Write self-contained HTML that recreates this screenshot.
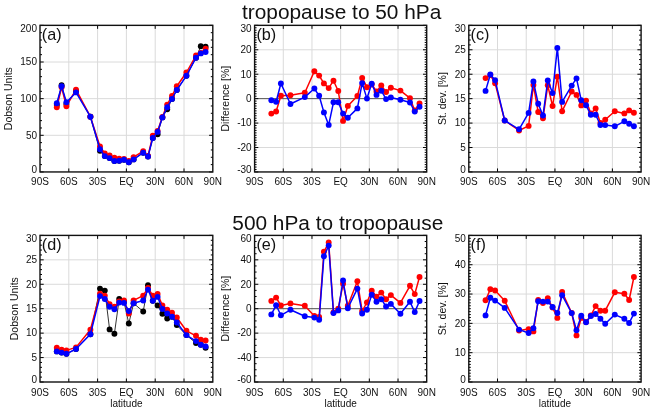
<!DOCTYPE html>
<html><head><meta charset="utf-8"><title>figure</title>
<style>
html,body{margin:0;padding:0;background:#fff;}
body{width:654px;height:411px;overflow:hidden;font-family:"Liberation Sans",sans-serif;}
svg{display:block;will-change:transform;}
</style></head><body>
<svg width="654" height="411" viewBox="0 0 654 411">
<rect x="0" y="0" width="654" height="411" fill="#fff"/>
<g stroke="#dadada" stroke-width="1" fill="none"><line x1="68.8" y1="25.35" x2="68.8" y2="171.95"/><line x1="97.6" y1="25.35" x2="97.6" y2="171.95"/><line x1="126.4" y1="25.35" x2="126.4" y2="171.95"/><line x1="155.2" y1="25.35" x2="155.2" y2="171.95"/><line x1="184" y1="25.35" x2="184" y2="171.95"/><line x1="40" y1="135.3" x2="212.8" y2="135.3"/><line x1="40" y1="98.65" x2="212.8" y2="98.65"/><line x1="40" y1="62" x2="212.8" y2="62"/></g>
<polyline points="56.8,105 61.6,85.3 66.4,104 76,91 90.4,116.7 100,150.8 104.8,156.1 109.6,158.1 114.4,161 119.2,160.7 124,159.7 128.8,162.2 133.6,159.4 143.2,152.7 148,156.5 152.8,138 157.6,134.2 162.4,117.4 167.2,109.3 172,98.9 176.8,90 186.4,75.8 196,57.7 200.8,46.2 205.6,46.8" fill="none" stroke="#000" stroke-width="0.8" stroke-linejoin="round"/>
<g fill="#000"><circle cx="56.8" cy="105" r="2.95"/><circle cx="61.6" cy="85.3" r="2.95"/><circle cx="66.4" cy="104" r="2.95"/><circle cx="76" cy="91" r="2.95"/><circle cx="90.4" cy="116.7" r="2.95"/><circle cx="100" cy="150.8" r="2.95"/><circle cx="104.8" cy="156.1" r="2.95"/><circle cx="109.6" cy="158.1" r="2.95"/><circle cx="114.4" cy="161" r="2.95"/><circle cx="119.2" cy="160.7" r="2.95"/><circle cx="124" cy="159.7" r="2.95"/><circle cx="128.8" cy="162.2" r="2.95"/><circle cx="133.6" cy="159.4" r="2.95"/><circle cx="143.2" cy="152.7" r="2.95"/><circle cx="148" cy="156.5" r="2.95"/><circle cx="152.8" cy="138" r="2.95"/><circle cx="157.6" cy="134.2" r="2.95"/><circle cx="162.4" cy="117.4" r="2.95"/><circle cx="167.2" cy="109.3" r="2.95"/><circle cx="172" cy="98.9" r="2.95"/><circle cx="176.8" cy="90" r="2.95"/><circle cx="186.4" cy="75.8" r="2.95"/><circle cx="196" cy="57.7" r="2.95"/><circle cx="200.8" cy="46.2" r="2.95"/><circle cx="205.6" cy="46.8" r="2.95"/></g>
<polyline points="56.8,107.2 61.6,87.3 66.4,106.2 76,89.6 90.4,116.7 100,146.5 104.8,153.5 109.6,155.4 114.4,157.6 119.2,158.6 124,159 128.8,161 133.6,157.1 143.2,151.1 148,156 152.8,135.7 157.6,131 162.4,117 167.2,104.6 172,95.9 176.8,86.3 186.4,72.5 196,55.5 200.8,53 205.6,48.6" fill="none" stroke="#f00" stroke-width="1.5" stroke-linejoin="round"/>
<g fill="#f00"><circle cx="56.8" cy="107.2" r="2.95"/><circle cx="61.6" cy="87.3" r="2.95"/><circle cx="66.4" cy="106.2" r="2.95"/><circle cx="76" cy="89.6" r="2.95"/><circle cx="90.4" cy="116.7" r="2.95"/><circle cx="100" cy="146.5" r="2.95"/><circle cx="104.8" cy="153.5" r="2.95"/><circle cx="109.6" cy="155.4" r="2.95"/><circle cx="114.4" cy="157.6" r="2.95"/><circle cx="119.2" cy="158.6" r="2.95"/><circle cx="124" cy="159" r="2.95"/><circle cx="128.8" cy="161" r="2.95"/><circle cx="133.6" cy="157.1" r="2.95"/><circle cx="143.2" cy="151.1" r="2.95"/><circle cx="148" cy="156" r="2.95"/><circle cx="152.8" cy="135.7" r="2.95"/><circle cx="157.6" cy="131" r="2.95"/><circle cx="162.4" cy="117" r="2.95"/><circle cx="167.2" cy="104.6" r="2.95"/><circle cx="172" cy="95.9" r="2.95"/><circle cx="176.8" cy="86.3" r="2.95"/><circle cx="186.4" cy="72.5" r="2.95"/><circle cx="196" cy="55.5" r="2.95"/><circle cx="200.8" cy="53" r="2.95"/><circle cx="205.6" cy="48.6" r="2.95"/></g>
<polyline points="56.8,103.2 61.6,86.3 66.4,102.3 76,92.4 90.4,116.7 100,149.3 104.8,156.1 109.6,158.1 114.4,161 119.2,160.7 124,159.7 128.8,162.2 133.6,159.4 143.2,152.7 148,156.5 152.8,138 157.6,131.9 162.4,117.4 167.2,107.2 172,98.9 176.8,90 186.4,75.8 196,57.7 200.8,53.4 205.6,52" fill="none" stroke="#00f" stroke-width="1.5" stroke-linejoin="round"/>
<g fill="#00f"><circle cx="56.8" cy="103.2" r="2.95"/><circle cx="61.6" cy="86.3" r="2.95"/><circle cx="66.4" cy="102.3" r="2.95"/><circle cx="76" cy="92.4" r="2.95"/><circle cx="90.4" cy="116.7" r="2.95"/><circle cx="100" cy="149.3" r="2.95"/><circle cx="104.8" cy="156.1" r="2.95"/><circle cx="109.6" cy="158.1" r="2.95"/><circle cx="114.4" cy="161" r="2.95"/><circle cx="119.2" cy="160.7" r="2.95"/><circle cx="124" cy="159.7" r="2.95"/><circle cx="128.8" cy="162.2" r="2.95"/><circle cx="133.6" cy="159.4" r="2.95"/><circle cx="143.2" cy="152.7" r="2.95"/><circle cx="148" cy="156.5" r="2.95"/><circle cx="152.8" cy="138" r="2.95"/><circle cx="157.6" cy="131.9" r="2.95"/><circle cx="162.4" cy="117.4" r="2.95"/><circle cx="167.2" cy="107.2" r="2.95"/><circle cx="172" cy="98.9" r="2.95"/><circle cx="176.8" cy="90" r="2.95"/><circle cx="186.4" cy="75.8" r="2.95"/><circle cx="196" cy="57.7" r="2.95"/><circle cx="200.8" cy="53.4" r="2.95"/><circle cx="205.6" cy="52" r="2.95"/></g>
<path d="M40 171.95h3.7M212.8 171.95h-3.7M40 164.62h2M212.8 164.62h-2M40 157.29h2M212.8 157.29h-2M40 149.96h2M212.8 149.96h-2M40 142.63h2M212.8 142.63h-2M40 135.3h3.7M212.8 135.3h-3.7M40 127.97h2M212.8 127.97h-2M40 120.64h2M212.8 120.64h-2M40 113.31h2M212.8 113.31h-2M40 105.98h2M212.8 105.98h-2M40 98.65h3.7M212.8 98.65h-3.7M40 91.32h2M212.8 91.32h-2M40 83.99h2M212.8 83.99h-2M40 76.66h2M212.8 76.66h-2M40 69.33h2M212.8 69.33h-2M40 62h3.7M212.8 62h-3.7M40 54.67h2M212.8 54.67h-2M40 47.34h2M212.8 47.34h-2M40 40.01h2M212.8 40.01h-2M40 32.68h2M212.8 32.68h-2M40 25.35h3.7M212.8 25.35h-3.7M68.8 171.95v-3.5M68.8 25.35v3.5M97.6 171.95v-3.5M97.6 25.35v3.5M126.4 171.95v-3.5M126.4 25.35v3.5M155.2 171.95v-3.5M155.2 25.35v3.5M184 171.95v-3.5M184 25.35v3.5" stroke="#000" stroke-width="1" fill="none"/>
<rect x="40" y="25.35" width="172.8" height="146.6" fill="none" stroke="#111" stroke-width="1.4"/>
<g font-family='"Liberation Sans", sans-serif' font-size="10" fill="#111"><text x="37" y="172.65" text-anchor="end">0</text><text x="37" y="138.6" text-anchor="end">50</text><text x="37" y="101.95" text-anchor="end">100</text><text x="37" y="65.3" text-anchor="end">150</text><text x="37" y="32.15" text-anchor="end">200</text><text x="40" y="185.45" text-anchor="middle">90S</text><text x="68.8" y="185.45" text-anchor="middle">60S</text><text x="97.6" y="185.45" text-anchor="middle">30S</text><text x="126.4" y="185.45" text-anchor="middle">EQ</text><text x="155.2" y="185.45" text-anchor="middle">30N</text><text x="184" y="185.45" text-anchor="middle">60N</text><text x="212.8" y="185.45" text-anchor="middle">90N</text></g>
<text x="12.12" y="98.65" font-family='"Liberation Sans", sans-serif' font-size="10.5" fill="#111" text-anchor="middle" transform="rotate(-90 12.12 98.65)">Dobson Units</text>
<text x="41.8" y="39.95" font-family='"Liberation Sans", sans-serif' font-size="16.2" fill="#111">(a)</text>
<g stroke="#dadada" stroke-width="1" fill="none"><line x1="283.28" y1="25.35" x2="283.28" y2="171.95"/><line x1="311.97" y1="25.35" x2="311.97" y2="171.95"/><line x1="340.65" y1="25.35" x2="340.65" y2="171.95"/><line x1="369.33" y1="25.35" x2="369.33" y2="171.95"/><line x1="398.02" y1="25.35" x2="398.02" y2="171.95"/><line x1="254.6" y1="147.52" x2="426.7" y2="147.52"/><line x1="254.6" y1="123.08" x2="426.7" y2="123.08"/><line x1="254.6" y1="74.22" x2="426.7" y2="74.22"/><line x1="254.6" y1="49.78" x2="426.7" y2="49.78"/></g>
<line x1="254.6" y1="98.65" x2="426.7" y2="98.65" stroke="#3a3a3a" stroke-width="0.9"/>
<polyline points="271.33,113.6 276.11,111.5 280.89,95.8 290.45,95.3 304.8,92.8 314.36,71.2 319.14,75.6 323.92,83.4 328.7,88.1 333.48,80.7 338.26,91 343.04,120.9 347.82,105.9 357.38,95.9 362.16,77.9 366.94,87.2 371.72,84.5 376.5,91.5 381.28,85.4 386.07,92 390.85,87.7 400.41,90.6 409.97,98.2 414.75,110.5 419.53,103.4" fill="none" stroke="#f00" stroke-width="1.5" stroke-linejoin="round"/>
<g fill="#f00"><circle cx="271.33" cy="113.6" r="2.95"/><circle cx="276.11" cy="111.5" r="2.95"/><circle cx="280.89" cy="95.8" r="2.95"/><circle cx="290.45" cy="95.3" r="2.95"/><circle cx="304.8" cy="92.8" r="2.95"/><circle cx="314.36" cy="71.2" r="2.95"/><circle cx="319.14" cy="75.6" r="2.95"/><circle cx="323.92" cy="83.4" r="2.95"/><circle cx="328.7" cy="88.1" r="2.95"/><circle cx="333.48" cy="80.7" r="2.95"/><circle cx="338.26" cy="91" r="2.95"/><circle cx="343.04" cy="120.9" r="2.95"/><circle cx="347.82" cy="105.9" r="2.95"/><circle cx="357.38" cy="95.9" r="2.95"/><circle cx="362.16" cy="77.9" r="2.95"/><circle cx="366.94" cy="87.2" r="2.95"/><circle cx="371.72" cy="84.5" r="2.95"/><circle cx="376.5" cy="91.5" r="2.95"/><circle cx="381.28" cy="85.4" r="2.95"/><circle cx="386.07" cy="92" r="2.95"/><circle cx="390.85" cy="87.7" r="2.95"/><circle cx="400.41" cy="90.6" r="2.95"/><circle cx="409.97" cy="98.2" r="2.95"/><circle cx="414.75" cy="110.5" r="2.95"/><circle cx="419.53" cy="103.4" r="2.95"/></g>
<polyline points="271.33,100.2 276.11,101.8 280.89,83.5 290.45,104 304.8,97.1 314.36,88.5 319.14,95.8 323.92,112.4 328.7,124.9 333.48,102.3 338.26,102.3 343.04,113.6 347.82,117.8 357.38,108.4 362.16,83.1 366.94,98.6 371.72,83.6 376.5,94.9 381.28,90.7 386.07,99.1 390.85,97.4 400.41,99.7 409.97,102.5 414.75,111.6 419.53,106.8" fill="none" stroke="#00f" stroke-width="1.5" stroke-linejoin="round"/>
<g fill="#00f"><circle cx="271.33" cy="100.2" r="2.95"/><circle cx="276.11" cy="101.8" r="2.95"/><circle cx="280.89" cy="83.5" r="2.95"/><circle cx="290.45" cy="104" r="2.95"/><circle cx="304.8" cy="97.1" r="2.95"/><circle cx="314.36" cy="88.5" r="2.95"/><circle cx="319.14" cy="95.8" r="2.95"/><circle cx="323.92" cy="112.4" r="2.95"/><circle cx="328.7" cy="124.9" r="2.95"/><circle cx="333.48" cy="102.3" r="2.95"/><circle cx="338.26" cy="102.3" r="2.95"/><circle cx="343.04" cy="113.6" r="2.95"/><circle cx="347.82" cy="117.8" r="2.95"/><circle cx="357.38" cy="108.4" r="2.95"/><circle cx="362.16" cy="83.1" r="2.95"/><circle cx="366.94" cy="98.6" r="2.95"/><circle cx="371.72" cy="83.6" r="2.95"/><circle cx="376.5" cy="94.9" r="2.95"/><circle cx="381.28" cy="90.7" r="2.95"/><circle cx="386.07" cy="99.1" r="2.95"/><circle cx="390.85" cy="97.4" r="2.95"/><circle cx="400.41" cy="99.7" r="2.95"/><circle cx="409.97" cy="102.5" r="2.95"/><circle cx="414.75" cy="111.6" r="2.95"/><circle cx="419.53" cy="106.8" r="2.95"/></g>
<path d="M254.6 171.95h3.7M426.7 171.95h-3.7M254.6 169.51h2M426.7 169.51h-2M254.6 167.06h2M426.7 167.06h-2M254.6 164.62h2M426.7 164.62h-2M254.6 162.18h2M426.7 162.18h-2M254.6 159.73h2M426.7 159.73h-2M254.6 157.29h2M426.7 157.29h-2M254.6 154.85h2M426.7 154.85h-2M254.6 152.4h2M426.7 152.4h-2M254.6 149.96h2M426.7 149.96h-2M254.6 147.52h3.7M426.7 147.52h-3.7M254.6 145.07h2M426.7 145.07h-2M254.6 142.63h2M426.7 142.63h-2M254.6 140.19h2M426.7 140.19h-2M254.6 137.74h2M426.7 137.74h-2M254.6 135.3h2M426.7 135.3h-2M254.6 132.86h2M426.7 132.86h-2M254.6 130.41h2M426.7 130.41h-2M254.6 127.97h2M426.7 127.97h-2M254.6 125.53h2M426.7 125.53h-2M254.6 123.08h3.7M426.7 123.08h-3.7M254.6 120.64h2M426.7 120.64h-2M254.6 118.2h2M426.7 118.2h-2M254.6 115.75h2M426.7 115.75h-2M254.6 113.31h2M426.7 113.31h-2M254.6 110.87h2M426.7 110.87h-2M254.6 108.42h2M426.7 108.42h-2M254.6 105.98h2M426.7 105.98h-2M254.6 103.54h2M426.7 103.54h-2M254.6 101.09h2M426.7 101.09h-2M254.6 98.65h3.7M426.7 98.65h-3.7M254.6 96.21h2M426.7 96.21h-2M254.6 93.76h2M426.7 93.76h-2M254.6 91.32h2M426.7 91.32h-2M254.6 88.88h2M426.7 88.88h-2M254.6 86.43h2M426.7 86.43h-2M254.6 83.99h2M426.7 83.99h-2M254.6 81.55h2M426.7 81.55h-2M254.6 79.1h2M426.7 79.1h-2M254.6 76.66h2M426.7 76.66h-2M254.6 74.22h3.7M426.7 74.22h-3.7M254.6 71.77h2M426.7 71.77h-2M254.6 69.33h2M426.7 69.33h-2M254.6 66.89h2M426.7 66.89h-2M254.6 64.44h2M426.7 64.44h-2M254.6 62h2M426.7 62h-2M254.6 59.56h2M426.7 59.56h-2M254.6 57.11h2M426.7 57.11h-2M254.6 54.67h2M426.7 54.67h-2M254.6 52.23h2M426.7 52.23h-2M254.6 49.78h3.7M426.7 49.78h-3.7M254.6 47.34h2M426.7 47.34h-2M254.6 44.9h2M426.7 44.9h-2M254.6 42.45h2M426.7 42.45h-2M254.6 40.01h2M426.7 40.01h-2M254.6 37.57h2M426.7 37.57h-2M254.6 35.12h2M426.7 35.12h-2M254.6 32.68h2M426.7 32.68h-2M254.6 30.24h2M426.7 30.24h-2M254.6 27.79h2M426.7 27.79h-2M254.6 25.35h3.7M426.7 25.35h-3.7M283.28 171.95v-3.5M283.28 25.35v3.5M311.97 171.95v-3.5M311.97 25.35v3.5M340.65 171.95v-3.5M340.65 25.35v3.5M369.33 171.95v-3.5M369.33 25.35v3.5M398.02 171.95v-3.5M398.02 25.35v3.5" stroke="#000" stroke-width="1" fill="none"/>
<rect x="254.6" y="25.35" width="172.1" height="146.6" fill="none" stroke="#111" stroke-width="1.4"/>
<g font-family='"Liberation Sans", sans-serif' font-size="10" fill="#111"><text x="251.6" y="172.65" text-anchor="end">-30</text><text x="251.6" y="150.82" text-anchor="end">-20</text><text x="251.6" y="126.38" text-anchor="end">-10</text><text x="251.6" y="101.95" text-anchor="end">0</text><text x="251.6" y="77.52" text-anchor="end">10</text><text x="251.6" y="53.08" text-anchor="end">20</text><text x="251.6" y="32.15" text-anchor="end">30</text><text x="254.6" y="185.45" text-anchor="middle">90S</text><text x="283.28" y="185.45" text-anchor="middle">60S</text><text x="311.97" y="185.45" text-anchor="middle">30S</text><text x="340.65" y="185.45" text-anchor="middle">EQ</text><text x="369.33" y="185.45" text-anchor="middle">30N</text><text x="398.02" y="185.45" text-anchor="middle">60N</text><text x="426.7" y="185.45" text-anchor="middle">90N</text></g>
<text x="228.95" y="98.65" font-family='"Liberation Sans", sans-serif' font-size="10.5" fill="#111" text-anchor="middle" transform="rotate(-90 228.95 98.65)">Difference [%]</text>
<text x="256.4" y="39.95" font-family='"Liberation Sans", sans-serif' font-size="16.2" fill="#111">(b)</text>
<g stroke="#dadada" stroke-width="1" fill="none"><line x1="497.52" y1="25.35" x2="497.52" y2="171.95"/><line x1="526.23" y1="25.35" x2="526.23" y2="171.95"/><line x1="554.95" y1="25.35" x2="554.95" y2="171.95"/><line x1="583.67" y1="25.35" x2="583.67" y2="171.95"/><line x1="612.38" y1="25.35" x2="612.38" y2="171.95"/><line x1="468.8" y1="147.52" x2="641.1" y2="147.52"/><line x1="468.8" y1="123.08" x2="641.1" y2="123.08"/><line x1="468.8" y1="98.65" x2="641.1" y2="98.65"/><line x1="468.8" y1="74.22" x2="641.1" y2="74.22"/><line x1="468.8" y1="49.78" x2="641.1" y2="49.78"/></g>
<polyline points="485.55,78.1 490.34,75 495.12,83.2 504.7,120.5 519.05,130.5 528.63,125.9 533.41,85 538.2,112 542.98,118.2 547.77,85.3 552.56,106 557.34,76.7 562.13,111.2 571.7,91.5 576.49,94.9 581.27,105.4 586.06,100.6 590.85,113.5 595.63,108.4 600.42,123 605.2,119.7 614.78,111.2 624.35,113.4 629.13,110.4 633.92,112.8" fill="none" stroke="#f00" stroke-width="1.5" stroke-linejoin="round"/>
<g fill="#f00"><circle cx="485.55" cy="78.1" r="2.95"/><circle cx="490.34" cy="75" r="2.95"/><circle cx="495.12" cy="83.2" r="2.95"/><circle cx="504.7" cy="120.5" r="2.95"/><circle cx="519.05" cy="130.5" r="2.95"/><circle cx="528.63" cy="125.9" r="2.95"/><circle cx="533.41" cy="85" r="2.95"/><circle cx="538.2" cy="112" r="2.95"/><circle cx="542.98" cy="118.2" r="2.95"/><circle cx="547.77" cy="85.3" r="2.95"/><circle cx="552.56" cy="106" r="2.95"/><circle cx="557.34" cy="76.7" r="2.95"/><circle cx="562.13" cy="111.2" r="2.95"/><circle cx="571.7" cy="91.5" r="2.95"/><circle cx="576.49" cy="94.9" r="2.95"/><circle cx="581.27" cy="105.4" r="2.95"/><circle cx="586.06" cy="100.6" r="2.95"/><circle cx="590.85" cy="113.5" r="2.95"/><circle cx="595.63" cy="108.4" r="2.95"/><circle cx="600.42" cy="123" r="2.95"/><circle cx="605.2" cy="119.7" r="2.95"/><circle cx="614.78" cy="111.2" r="2.95"/><circle cx="624.35" cy="113.4" r="2.95"/><circle cx="629.13" cy="110.4" r="2.95"/><circle cx="633.92" cy="112.8" r="2.95"/></g>
<polyline points="485.55,90.9 490.34,74.5 495.12,80.3 504.7,120.5 519.05,129.3 528.63,112.9 533.41,81.4 538.2,103.7 542.98,115.5 547.77,80.5 552.56,93.1 557.34,47.9 562.13,101.9 571.7,85.6 576.49,78.4 581.27,100.3 586.06,105.3 590.85,114.8 595.63,114.8 600.42,125 605.2,125.1 614.78,126.3 624.35,121.3 629.13,123.7 633.92,126.3" fill="none" stroke="#00f" stroke-width="1.5" stroke-linejoin="round"/>
<g fill="#00f"><circle cx="485.55" cy="90.9" r="2.95"/><circle cx="490.34" cy="74.5" r="2.95"/><circle cx="495.12" cy="80.3" r="2.95"/><circle cx="504.7" cy="120.5" r="2.95"/><circle cx="519.05" cy="129.3" r="2.95"/><circle cx="528.63" cy="112.9" r="2.95"/><circle cx="533.41" cy="81.4" r="2.95"/><circle cx="538.2" cy="103.7" r="2.95"/><circle cx="542.98" cy="115.5" r="2.95"/><circle cx="547.77" cy="80.5" r="2.95"/><circle cx="552.56" cy="93.1" r="2.95"/><circle cx="557.34" cy="47.9" r="2.95"/><circle cx="562.13" cy="101.9" r="2.95"/><circle cx="571.7" cy="85.6" r="2.95"/><circle cx="576.49" cy="78.4" r="2.95"/><circle cx="581.27" cy="100.3" r="2.95"/><circle cx="586.06" cy="105.3" r="2.95"/><circle cx="590.85" cy="114.8" r="2.95"/><circle cx="595.63" cy="114.8" r="2.95"/><circle cx="600.42" cy="125" r="2.95"/><circle cx="605.2" cy="125.1" r="2.95"/><circle cx="614.78" cy="126.3" r="2.95"/><circle cx="624.35" cy="121.3" r="2.95"/><circle cx="629.13" cy="123.7" r="2.95"/><circle cx="633.92" cy="126.3" r="2.95"/></g>
<path d="M468.8 171.95h3.7M641.1 171.95h-3.7M468.8 167.06h2M641.1 167.06h-2M468.8 162.18h2M641.1 162.18h-2M468.8 157.29h2M641.1 157.29h-2M468.8 152.4h2M641.1 152.4h-2M468.8 147.52h3.7M641.1 147.52h-3.7M468.8 142.63h2M641.1 142.63h-2M468.8 137.74h2M641.1 137.74h-2M468.8 132.86h2M641.1 132.86h-2M468.8 127.97h2M641.1 127.97h-2M468.8 123.08h3.7M641.1 123.08h-3.7M468.8 118.2h2M641.1 118.2h-2M468.8 113.31h2M641.1 113.31h-2M468.8 108.42h2M641.1 108.42h-2M468.8 103.54h2M641.1 103.54h-2M468.8 98.65h3.7M641.1 98.65h-3.7M468.8 93.76h2M641.1 93.76h-2M468.8 88.88h2M641.1 88.88h-2M468.8 83.99h2M641.1 83.99h-2M468.8 79.1h2M641.1 79.1h-2M468.8 74.22h3.7M641.1 74.22h-3.7M468.8 69.33h2M641.1 69.33h-2M468.8 64.44h2M641.1 64.44h-2M468.8 59.56h2M641.1 59.56h-2M468.8 54.67h2M641.1 54.67h-2M468.8 49.78h3.7M641.1 49.78h-3.7M468.8 44.9h2M641.1 44.9h-2M468.8 40.01h2M641.1 40.01h-2M468.8 35.12h2M641.1 35.12h-2M468.8 30.24h2M641.1 30.24h-2M468.8 25.35h3.7M641.1 25.35h-3.7M497.52 171.95v-3.5M497.52 25.35v3.5M526.23 171.95v-3.5M526.23 25.35v3.5M554.95 171.95v-3.5M554.95 25.35v3.5M583.67 171.95v-3.5M583.67 25.35v3.5M612.38 171.95v-3.5M612.38 25.35v3.5" stroke="#000" stroke-width="1" fill="none"/>
<rect x="468.8" y="25.35" width="172.3" height="146.6" fill="none" stroke="#111" stroke-width="1.4"/>
<g font-family='"Liberation Sans", sans-serif' font-size="10" fill="#111"><text x="465.8" y="172.65" text-anchor="end">0</text><text x="465.8" y="150.82" text-anchor="end">5</text><text x="465.8" y="126.38" text-anchor="end">10</text><text x="465.8" y="101.95" text-anchor="end">15</text><text x="465.8" y="77.52" text-anchor="end">20</text><text x="465.8" y="53.08" text-anchor="end">25</text><text x="465.8" y="32.15" text-anchor="end">30</text><text x="468.8" y="185.45" text-anchor="middle">90S</text><text x="497.52" y="185.45" text-anchor="middle">60S</text><text x="526.23" y="185.45" text-anchor="middle">30S</text><text x="554.95" y="185.45" text-anchor="middle">EQ</text><text x="583.67" y="185.45" text-anchor="middle">30N</text><text x="612.38" y="185.45" text-anchor="middle">60N</text><text x="641.1" y="185.45" text-anchor="middle">90N</text></g>
<text x="446.48" y="98.65" font-family='"Liberation Sans", sans-serif' font-size="10.5" fill="#111" text-anchor="middle" transform="rotate(-90 446.48 98.65)">St. dev. [%]</text>
<text x="470.6" y="39.95" font-family='"Liberation Sans", sans-serif' font-size="16.2" fill="#111">(c)</text>
<g stroke="#dadada" stroke-width="1" fill="none"><line x1="68.8" y1="235.4" x2="68.8" y2="382"/><line x1="97.6" y1="235.4" x2="97.6" y2="382"/><line x1="126.4" y1="235.4" x2="126.4" y2="382"/><line x1="155.2" y1="235.4" x2="155.2" y2="382"/><line x1="184" y1="235.4" x2="184" y2="382"/><line x1="40" y1="357.57" x2="212.8" y2="357.57"/><line x1="40" y1="333.13" x2="212.8" y2="333.13"/><line x1="40" y1="308.7" x2="212.8" y2="308.7"/><line x1="40" y1="284.27" x2="212.8" y2="284.27"/><line x1="40" y1="259.83" x2="212.8" y2="259.83"/></g>
<polyline points="56.8,351.4 61.6,352.6 66.4,353.8 76,349 90.4,334.2 100,288.6 104.8,290.6 109.6,329.4 114.4,333.8 119.2,299 124,302 128.8,323.5 133.6,303.3 143.2,311.5 148,285.3 152.8,300.8 157.6,305.4 162.4,313.7 167.2,318.5 172,316.8 176.8,325.1 186.4,335.1 196,343.1 200.8,344.7 205.6,347.8" fill="none" stroke="#000" stroke-width="0.8" stroke-linejoin="round"/>
<g fill="#000"><circle cx="56.8" cy="351.4" r="2.95"/><circle cx="61.6" cy="352.6" r="2.95"/><circle cx="66.4" cy="353.8" r="2.95"/><circle cx="76" cy="349" r="2.95"/><circle cx="90.4" cy="334.2" r="2.95"/><circle cx="100" cy="288.6" r="2.95"/><circle cx="104.8" cy="290.6" r="2.95"/><circle cx="109.6" cy="329.4" r="2.95"/><circle cx="114.4" cy="333.8" r="2.95"/><circle cx="119.2" cy="299" r="2.95"/><circle cx="124" cy="302" r="2.95"/><circle cx="128.8" cy="323.5" r="2.95"/><circle cx="133.6" cy="303.3" r="2.95"/><circle cx="143.2" cy="311.5" r="2.95"/><circle cx="148" cy="285.3" r="2.95"/><circle cx="152.8" cy="300.8" r="2.95"/><circle cx="157.6" cy="305.4" r="2.95"/><circle cx="162.4" cy="313.7" r="2.95"/><circle cx="167.2" cy="318.5" r="2.95"/><circle cx="172" cy="316.8" r="2.95"/><circle cx="176.8" cy="325.1" r="2.95"/><circle cx="186.4" cy="335.1" r="2.95"/><circle cx="196" cy="343.1" r="2.95"/><circle cx="200.8" cy="344.7" r="2.95"/><circle cx="205.6" cy="347.8" r="2.95"/></g>
<polyline points="56.8,347.7 61.6,349.6 66.4,350.4 76,347.4 90.4,329.7 100,293.6 104.8,295.6 109.6,304.1 114.4,306.8 119.2,301.5 124,300.4 128.8,313.6 133.6,300.4 143.2,295.7 148,288 152.8,295.7 157.6,293.9 162.4,305.5 167.2,309.6 172,312.8 176.8,317.5 186.4,330.8 196,335.8 200.8,339.8 205.6,340.5" fill="none" stroke="#f00" stroke-width="1.5" stroke-linejoin="round"/>
<g fill="#f00"><circle cx="56.8" cy="347.7" r="2.95"/><circle cx="61.6" cy="349.6" r="2.95"/><circle cx="66.4" cy="350.4" r="2.95"/><circle cx="76" cy="347.4" r="2.95"/><circle cx="90.4" cy="329.7" r="2.95"/><circle cx="100" cy="293.6" r="2.95"/><circle cx="104.8" cy="295.6" r="2.95"/><circle cx="109.6" cy="304.1" r="2.95"/><circle cx="114.4" cy="306.8" r="2.95"/><circle cx="119.2" cy="301.5" r="2.95"/><circle cx="124" cy="300.4" r="2.95"/><circle cx="128.8" cy="313.6" r="2.95"/><circle cx="133.6" cy="300.4" r="2.95"/><circle cx="143.2" cy="295.7" r="2.95"/><circle cx="148" cy="288" r="2.95"/><circle cx="152.8" cy="295.7" r="2.95"/><circle cx="157.6" cy="293.9" r="2.95"/><circle cx="162.4" cy="305.5" r="2.95"/><circle cx="167.2" cy="309.6" r="2.95"/><circle cx="172" cy="312.8" r="2.95"/><circle cx="176.8" cy="317.5" r="2.95"/><circle cx="186.4" cy="330.8" r="2.95"/><circle cx="196" cy="335.8" r="2.95"/><circle cx="200.8" cy="339.8" r="2.95"/><circle cx="205.6" cy="340.5" r="2.95"/></g>
<polyline points="56.8,351.4 61.6,352.6 66.4,353.8 76,349 90.4,334.2 100,296.1 104.8,299 109.6,306.8 114.4,309.2 119.2,302.6 124,302.9 128.8,311 133.6,303.3 143.2,300.5 148,289.6 152.8,300.8 157.6,296.9 162.4,309 167.2,313.5 172,316.8 176.8,322.5 186.4,335.1 196,341.1 200.8,344.7 205.6,346.5" fill="none" stroke="#00f" stroke-width="1.5" stroke-linejoin="round"/>
<g fill="#00f"><circle cx="56.8" cy="351.4" r="2.95"/><circle cx="61.6" cy="352.6" r="2.95"/><circle cx="66.4" cy="353.8" r="2.95"/><circle cx="76" cy="349" r="2.95"/><circle cx="90.4" cy="334.2" r="2.95"/><circle cx="100" cy="296.1" r="2.95"/><circle cx="104.8" cy="299" r="2.95"/><circle cx="109.6" cy="306.8" r="2.95"/><circle cx="114.4" cy="309.2" r="2.95"/><circle cx="119.2" cy="302.6" r="2.95"/><circle cx="124" cy="302.9" r="2.95"/><circle cx="128.8" cy="311" r="2.95"/><circle cx="133.6" cy="303.3" r="2.95"/><circle cx="143.2" cy="300.5" r="2.95"/><circle cx="148" cy="289.6" r="2.95"/><circle cx="152.8" cy="300.8" r="2.95"/><circle cx="157.6" cy="296.9" r="2.95"/><circle cx="162.4" cy="309" r="2.95"/><circle cx="167.2" cy="313.5" r="2.95"/><circle cx="172" cy="316.8" r="2.95"/><circle cx="176.8" cy="322.5" r="2.95"/><circle cx="186.4" cy="335.1" r="2.95"/><circle cx="196" cy="341.1" r="2.95"/><circle cx="200.8" cy="344.7" r="2.95"/><circle cx="205.6" cy="346.5" r="2.95"/></g>
<path d="M40 382h3.7M212.8 382h-3.7M40 377.11h2M212.8 377.11h-2M40 372.23h2M212.8 372.23h-2M40 367.34h2M212.8 367.34h-2M40 362.45h2M212.8 362.45h-2M40 357.57h3.7M212.8 357.57h-3.7M40 352.68h2M212.8 352.68h-2M40 347.79h2M212.8 347.79h-2M40 342.91h2M212.8 342.91h-2M40 338.02h2M212.8 338.02h-2M40 333.13h3.7M212.8 333.13h-3.7M40 328.25h2M212.8 328.25h-2M40 323.36h2M212.8 323.36h-2M40 318.47h2M212.8 318.47h-2M40 313.59h2M212.8 313.59h-2M40 308.7h3.7M212.8 308.7h-3.7M40 303.81h2M212.8 303.81h-2M40 298.93h2M212.8 298.93h-2M40 294.04h2M212.8 294.04h-2M40 289.15h2M212.8 289.15h-2M40 284.27h3.7M212.8 284.27h-3.7M40 279.38h2M212.8 279.38h-2M40 274.49h2M212.8 274.49h-2M40 269.61h2M212.8 269.61h-2M40 264.72h2M212.8 264.72h-2M40 259.83h3.7M212.8 259.83h-3.7M40 254.95h2M212.8 254.95h-2M40 250.06h2M212.8 250.06h-2M40 245.17h2M212.8 245.17h-2M40 240.29h2M212.8 240.29h-2M40 235.4h3.7M212.8 235.4h-3.7M68.8 382v-3.5M68.8 235.4v3.5M97.6 382v-3.5M97.6 235.4v3.5M126.4 382v-3.5M126.4 235.4v3.5M155.2 382v-3.5M155.2 235.4v3.5M184 382v-3.5M184 235.4v3.5" stroke="#000" stroke-width="1" fill="none"/>
<rect x="40" y="235.4" width="172.8" height="146.6" fill="none" stroke="#111" stroke-width="1.4"/>
<g font-family='"Liberation Sans", sans-serif' font-size="10" fill="#111"><text x="37" y="382.7" text-anchor="end">0</text><text x="37" y="360.87" text-anchor="end">5</text><text x="37" y="336.43" text-anchor="end">10</text><text x="37" y="312" text-anchor="end">15</text><text x="37" y="287.57" text-anchor="end">20</text><text x="37" y="263.13" text-anchor="end">25</text><text x="37" y="242.2" text-anchor="end">30</text><text x="40" y="395.5" text-anchor="middle">90S</text><text x="68.8" y="395.5" text-anchor="middle">60S</text><text x="97.6" y="395.5" text-anchor="middle">30S</text><text x="126.4" y="395.5" text-anchor="middle">EQ</text><text x="155.2" y="395.5" text-anchor="middle">30N</text><text x="184" y="395.5" text-anchor="middle">60N</text><text x="212.8" y="395.5" text-anchor="middle">90N</text></g>
<text x="17.68" y="308.7" font-family='"Liberation Sans", sans-serif' font-size="10.5" fill="#111" text-anchor="middle" transform="rotate(-90 17.68 308.7)">Dobson Units</text>
<text x="41.8" y="250" font-family='"Liberation Sans", sans-serif' font-size="16.2" fill="#111">(d)</text>
<text x="126.4" y="406.8" font-family='"Liberation Sans", sans-serif' font-size="10" fill="#111" text-anchor="middle">latitude</text>
<g stroke="#dadada" stroke-width="1" fill="none"><line x1="283.28" y1="235.4" x2="283.28" y2="382"/><line x1="311.97" y1="235.4" x2="311.97" y2="382"/><line x1="340.65" y1="235.4" x2="340.65" y2="382"/><line x1="369.33" y1="235.4" x2="369.33" y2="382"/><line x1="398.02" y1="235.4" x2="398.02" y2="382"/><line x1="254.6" y1="357.57" x2="426.7" y2="357.57"/><line x1="254.6" y1="333.13" x2="426.7" y2="333.13"/><line x1="254.6" y1="284.27" x2="426.7" y2="284.27"/><line x1="254.6" y1="259.83" x2="426.7" y2="259.83"/></g>
<line x1="254.6" y1="308.7" x2="426.7" y2="308.7" stroke="#3a3a3a" stroke-width="0.9"/>
<polyline points="271.33,300.9 276.11,297.6 280.89,305.5 290.45,303.4 304.8,305.7 314.36,316 319.14,317 323.92,251.8 328.7,242.5 333.48,312.5 338.26,308.6 343.04,283.8 347.82,305.8 357.38,281.2 362.16,311 366.94,302.5 371.72,290.8 376.5,296.6 381.28,292.6 386.07,299.2 390.85,295.1 400.41,302.9 409.97,285.8 414.75,294.1 419.53,277" fill="none" stroke="#f00" stroke-width="1.5" stroke-linejoin="round"/>
<g fill="#f00"><circle cx="271.33" cy="300.9" r="2.95"/><circle cx="276.11" cy="297.6" r="2.95"/><circle cx="280.89" cy="305.5" r="2.95"/><circle cx="290.45" cy="303.4" r="2.95"/><circle cx="304.8" cy="305.7" r="2.95"/><circle cx="314.36" cy="316" r="2.95"/><circle cx="319.14" cy="317" r="2.95"/><circle cx="323.92" cy="251.8" r="2.95"/><circle cx="328.7" cy="242.5" r="2.95"/><circle cx="333.48" cy="312.5" r="2.95"/><circle cx="338.26" cy="308.6" r="2.95"/><circle cx="343.04" cy="283.8" r="2.95"/><circle cx="347.82" cy="305.8" r="2.95"/><circle cx="357.38" cy="281.2" r="2.95"/><circle cx="362.16" cy="311" r="2.95"/><circle cx="366.94" cy="302.5" r="2.95"/><circle cx="371.72" cy="290.8" r="2.95"/><circle cx="376.5" cy="296.6" r="2.95"/><circle cx="381.28" cy="292.6" r="2.95"/><circle cx="386.07" cy="299.2" r="2.95"/><circle cx="390.85" cy="295.1" r="2.95"/><circle cx="400.41" cy="302.9" r="2.95"/><circle cx="409.97" cy="285.8" r="2.95"/><circle cx="414.75" cy="294.1" r="2.95"/><circle cx="419.53" cy="277" r="2.95"/></g>
<polyline points="271.33,314.4 276.11,305.3 280.89,315.3 290.45,309.8 304.8,316.2 314.36,317.6 319.14,319.8 323.92,256.2 328.7,245.6 333.48,313.1 338.26,310.4 343.04,280.5 347.82,308.2 357.38,288.6 362.16,313.5 366.94,309.8 371.72,294.8 376.5,301.8 381.28,299.2 386.07,306.5 390.85,303.9 400.41,313.8 409.97,301.8 414.75,312.1 419.53,301" fill="none" stroke="#00f" stroke-width="1.5" stroke-linejoin="round"/>
<g fill="#00f"><circle cx="271.33" cy="314.4" r="2.95"/><circle cx="276.11" cy="305.3" r="2.95"/><circle cx="280.89" cy="315.3" r="2.95"/><circle cx="290.45" cy="309.8" r="2.95"/><circle cx="304.8" cy="316.2" r="2.95"/><circle cx="314.36" cy="317.6" r="2.95"/><circle cx="319.14" cy="319.8" r="2.95"/><circle cx="323.92" cy="256.2" r="2.95"/><circle cx="328.7" cy="245.6" r="2.95"/><circle cx="333.48" cy="313.1" r="2.95"/><circle cx="338.26" cy="310.4" r="2.95"/><circle cx="343.04" cy="280.5" r="2.95"/><circle cx="347.82" cy="308.2" r="2.95"/><circle cx="357.38" cy="288.6" r="2.95"/><circle cx="362.16" cy="313.5" r="2.95"/><circle cx="366.94" cy="309.8" r="2.95"/><circle cx="371.72" cy="294.8" r="2.95"/><circle cx="376.5" cy="301.8" r="2.95"/><circle cx="381.28" cy="299.2" r="2.95"/><circle cx="386.07" cy="306.5" r="2.95"/><circle cx="390.85" cy="303.9" r="2.95"/><circle cx="400.41" cy="313.8" r="2.95"/><circle cx="409.97" cy="301.8" r="2.95"/><circle cx="414.75" cy="312.1" r="2.95"/><circle cx="419.53" cy="301" r="2.95"/></g>
<path d="M254.6 382h3.7M426.7 382h-3.7M254.6 375.89h2M426.7 375.89h-2M254.6 369.78h2M426.7 369.78h-2M254.6 363.68h2M426.7 363.68h-2M254.6 357.57h3.7M426.7 357.57h-3.7M254.6 351.46h2M426.7 351.46h-2M254.6 345.35h2M426.7 345.35h-2M254.6 339.24h2M426.7 339.24h-2M254.6 333.13h3.7M426.7 333.13h-3.7M254.6 327.02h2M426.7 327.02h-2M254.6 320.92h2M426.7 320.92h-2M254.6 314.81h2M426.7 314.81h-2M254.6 308.7h3.7M426.7 308.7h-3.7M254.6 302.59h2M426.7 302.59h-2M254.6 296.48h2M426.7 296.48h-2M254.6 290.38h2M426.7 290.38h-2M254.6 284.27h3.7M426.7 284.27h-3.7M254.6 278.16h2M426.7 278.16h-2M254.6 272.05h2M426.7 272.05h-2M254.6 265.94h2M426.7 265.94h-2M254.6 259.83h3.7M426.7 259.83h-3.7M254.6 253.72h2M426.7 253.72h-2M254.6 247.62h2M426.7 247.62h-2M254.6 241.51h2M426.7 241.51h-2M254.6 235.4h3.7M426.7 235.4h-3.7M283.28 382v-3.5M283.28 235.4v3.5M311.97 382v-3.5M311.97 235.4v3.5M340.65 382v-3.5M340.65 235.4v3.5M369.33 382v-3.5M369.33 235.4v3.5M398.02 382v-3.5M398.02 235.4v3.5" stroke="#000" stroke-width="1" fill="none"/>
<rect x="254.6" y="235.4" width="172.1" height="146.6" fill="none" stroke="#111" stroke-width="1.4"/>
<g font-family='"Liberation Sans", sans-serif' font-size="10" fill="#111"><text x="251.6" y="382.7" text-anchor="end">-60</text><text x="251.6" y="360.87" text-anchor="end">-40</text><text x="251.6" y="336.43" text-anchor="end">-20</text><text x="251.6" y="312" text-anchor="end">0</text><text x="251.6" y="287.57" text-anchor="end">20</text><text x="251.6" y="263.13" text-anchor="end">40</text><text x="251.6" y="242.2" text-anchor="end">60</text><text x="254.6" y="395.5" text-anchor="middle">90S</text><text x="283.28" y="395.5" text-anchor="middle">60S</text><text x="311.97" y="395.5" text-anchor="middle">30S</text><text x="340.65" y="395.5" text-anchor="middle">EQ</text><text x="369.33" y="395.5" text-anchor="middle">30N</text><text x="398.02" y="395.5" text-anchor="middle">60N</text><text x="426.7" y="395.5" text-anchor="middle">90N</text></g>
<text x="228.95" y="308.7" font-family='"Liberation Sans", sans-serif' font-size="10.5" fill="#111" text-anchor="middle" transform="rotate(-90 228.95 308.7)">Difference [%]</text>
<text x="256.4" y="250" font-family='"Liberation Sans", sans-serif' font-size="16.2" fill="#111">(e)</text>
<text x="340.65" y="406.8" font-family='"Liberation Sans", sans-serif' font-size="10" fill="#111" text-anchor="middle">latitude</text>
<g stroke="#dadada" stroke-width="1" fill="none"><line x1="497.52" y1="235.4" x2="497.52" y2="382"/><line x1="526.23" y1="235.4" x2="526.23" y2="382"/><line x1="554.95" y1="235.4" x2="554.95" y2="382"/><line x1="583.67" y1="235.4" x2="583.67" y2="382"/><line x1="612.38" y1="235.4" x2="612.38" y2="382"/><line x1="468.8" y1="352.68" x2="641.1" y2="352.68"/><line x1="468.8" y1="323.36" x2="641.1" y2="323.36"/><line x1="468.8" y1="294.04" x2="641.1" y2="294.04"/><line x1="468.8" y1="264.72" x2="641.1" y2="264.72"/></g>
<polyline points="485.55,300.2 490.34,289.3 495.12,290.5 504.7,300.8 519.05,330.5 528.63,329.1 533.41,331.4 538.2,299.9 542.98,303.1 547.77,298.3 552.56,307.5 557.34,317.9 562.13,292 571.7,313 576.49,335.4 581.27,317.9 586.06,322 590.85,315.5 595.63,306.1 600.42,310.7 605.2,310.7 614.78,292.3 624.35,293.7 629.13,300 633.92,277" fill="none" stroke="#f00" stroke-width="1.5" stroke-linejoin="round"/>
<g fill="#f00"><circle cx="485.55" cy="300.2" r="2.95"/><circle cx="490.34" cy="289.3" r="2.95"/><circle cx="495.12" cy="290.5" r="2.95"/><circle cx="504.7" cy="300.8" r="2.95"/><circle cx="519.05" cy="330.5" r="2.95"/><circle cx="528.63" cy="329.1" r="2.95"/><circle cx="533.41" cy="331.4" r="2.95"/><circle cx="538.2" cy="299.9" r="2.95"/><circle cx="542.98" cy="303.1" r="2.95"/><circle cx="547.77" cy="298.3" r="2.95"/><circle cx="552.56" cy="307.5" r="2.95"/><circle cx="557.34" cy="317.9" r="2.95"/><circle cx="562.13" cy="292" r="2.95"/><circle cx="571.7" cy="313" r="2.95"/><circle cx="576.49" cy="335.4" r="2.95"/><circle cx="581.27" cy="317.9" r="2.95"/><circle cx="586.06" cy="322" r="2.95"/><circle cx="590.85" cy="315.5" r="2.95"/><circle cx="595.63" cy="306.1" r="2.95"/><circle cx="600.42" cy="310.7" r="2.95"/><circle cx="605.2" cy="310.7" r="2.95"/><circle cx="614.78" cy="292.3" r="2.95"/><circle cx="624.35" cy="293.7" r="2.95"/><circle cx="629.13" cy="300" r="2.95"/><circle cx="633.92" cy="277" r="2.95"/></g>
<polyline points="485.55,315.4 490.34,297.8 495.12,300.6 504.7,307.9 519.05,329.6 528.63,333 533.41,328.2 538.2,301.2 542.98,301.6 547.77,301.6 552.56,307 557.34,313 562.13,295.2 571.7,313.1 576.49,330.3 581.27,315.7 586.06,322.2 590.85,316 595.63,314 600.42,318.7 605.2,323.8 614.78,314.6 624.35,318.7 629.13,323 633.92,313.6" fill="none" stroke="#00f" stroke-width="1.5" stroke-linejoin="round"/>
<g fill="#00f"><circle cx="485.55" cy="315.4" r="2.95"/><circle cx="490.34" cy="297.8" r="2.95"/><circle cx="495.12" cy="300.6" r="2.95"/><circle cx="504.7" cy="307.9" r="2.95"/><circle cx="519.05" cy="329.6" r="2.95"/><circle cx="528.63" cy="333" r="2.95"/><circle cx="533.41" cy="328.2" r="2.95"/><circle cx="538.2" cy="301.2" r="2.95"/><circle cx="542.98" cy="301.6" r="2.95"/><circle cx="547.77" cy="301.6" r="2.95"/><circle cx="552.56" cy="307" r="2.95"/><circle cx="557.34" cy="313" r="2.95"/><circle cx="562.13" cy="295.2" r="2.95"/><circle cx="571.7" cy="313.1" r="2.95"/><circle cx="576.49" cy="330.3" r="2.95"/><circle cx="581.27" cy="315.7" r="2.95"/><circle cx="586.06" cy="322.2" r="2.95"/><circle cx="590.85" cy="316" r="2.95"/><circle cx="595.63" cy="314" r="2.95"/><circle cx="600.42" cy="318.7" r="2.95"/><circle cx="605.2" cy="323.8" r="2.95"/><circle cx="614.78" cy="314.6" r="2.95"/><circle cx="624.35" cy="318.7" r="2.95"/><circle cx="629.13" cy="323" r="2.95"/><circle cx="633.92" cy="313.6" r="2.95"/></g>
<path d="M468.8 382h3.7M641.1 382h-3.7M468.8 379.07h2M641.1 379.07h-2M468.8 376.14h2M641.1 376.14h-2M468.8 373.2h2M641.1 373.2h-2M468.8 370.27h2M641.1 370.27h-2M468.8 367.34h2M641.1 367.34h-2M468.8 364.41h2M641.1 364.41h-2M468.8 361.48h2M641.1 361.48h-2M468.8 358.54h2M641.1 358.54h-2M468.8 355.61h2M641.1 355.61h-2M468.8 352.68h3.7M641.1 352.68h-3.7M468.8 349.75h2M641.1 349.75h-2M468.8 346.82h2M641.1 346.82h-2M468.8 343.88h2M641.1 343.88h-2M468.8 340.95h2M641.1 340.95h-2M468.8 338.02h2M641.1 338.02h-2M468.8 335.09h2M641.1 335.09h-2M468.8 332.16h2M641.1 332.16h-2M468.8 329.22h2M641.1 329.22h-2M468.8 326.29h2M641.1 326.29h-2M468.8 323.36h3.7M641.1 323.36h-3.7M468.8 320.43h2M641.1 320.43h-2M468.8 317.5h2M641.1 317.5h-2M468.8 314.56h2M641.1 314.56h-2M468.8 311.63h2M641.1 311.63h-2M468.8 308.7h2M641.1 308.7h-2M468.8 305.77h2M641.1 305.77h-2M468.8 302.84h2M641.1 302.84h-2M468.8 299.9h2M641.1 299.9h-2M468.8 296.97h2M641.1 296.97h-2M468.8 294.04h3.7M641.1 294.04h-3.7M468.8 291.11h2M641.1 291.11h-2M468.8 288.18h2M641.1 288.18h-2M468.8 285.24h2M641.1 285.24h-2M468.8 282.31h2M641.1 282.31h-2M468.8 279.38h2M641.1 279.38h-2M468.8 276.45h2M641.1 276.45h-2M468.8 273.52h2M641.1 273.52h-2M468.8 270.58h2M641.1 270.58h-2M468.8 267.65h2M641.1 267.65h-2M468.8 264.72h3.7M641.1 264.72h-3.7M468.8 261.79h2M641.1 261.79h-2M468.8 258.86h2M641.1 258.86h-2M468.8 255.92h2M641.1 255.92h-2M468.8 252.99h2M641.1 252.99h-2M468.8 250.06h2M641.1 250.06h-2M468.8 247.13h2M641.1 247.13h-2M468.8 244.2h2M641.1 244.2h-2M468.8 241.26h2M641.1 241.26h-2M468.8 238.33h2M641.1 238.33h-2M468.8 235.4h3.7M641.1 235.4h-3.7M497.52 382v-3.5M497.52 235.4v3.5M526.23 382v-3.5M526.23 235.4v3.5M554.95 382v-3.5M554.95 235.4v3.5M583.67 382v-3.5M583.67 235.4v3.5M612.38 382v-3.5M612.38 235.4v3.5" stroke="#000" stroke-width="1" fill="none"/>
<rect x="468.8" y="235.4" width="172.3" height="146.6" fill="none" stroke="#111" stroke-width="1.4"/>
<g font-family='"Liberation Sans", sans-serif' font-size="10" fill="#111"><text x="465.8" y="382.7" text-anchor="end">0</text><text x="465.8" y="355.98" text-anchor="end">10</text><text x="465.8" y="326.66" text-anchor="end">20</text><text x="465.8" y="297.34" text-anchor="end">30</text><text x="465.8" y="268.02" text-anchor="end">40</text><text x="465.8" y="242.2" text-anchor="end">50</text><text x="468.8" y="395.5" text-anchor="middle">90S</text><text x="497.52" y="395.5" text-anchor="middle">60S</text><text x="526.23" y="395.5" text-anchor="middle">30S</text><text x="554.95" y="395.5" text-anchor="middle">EQ</text><text x="583.67" y="395.5" text-anchor="middle">30N</text><text x="612.38" y="395.5" text-anchor="middle">60N</text><text x="641.1" y="395.5" text-anchor="middle">90N</text></g>
<text x="446.48" y="308.7" font-family='"Liberation Sans", sans-serif' font-size="10.5" fill="#111" text-anchor="middle" transform="rotate(-90 446.48 308.7)">St. dev. [%]</text>
<text x="470.6" y="250" font-family='"Liberation Sans", sans-serif' font-size="16.2" fill="#111">(f)</text>
<text x="554.95" y="406.8" font-family='"Liberation Sans", sans-serif' font-size="10" fill="#111" text-anchor="middle">latitude</text>
<text x="242" y="19.3" font-family='"Liberation Sans", sans-serif' font-size="20.85" fill="#111">tropopause to 50 hPa</text>
<text x="232.3" y="230.3" font-family='"Liberation Sans", sans-serif' font-size="20.85" fill="#111">500 hPa to tropopause</text>
</svg>
</body></html>
